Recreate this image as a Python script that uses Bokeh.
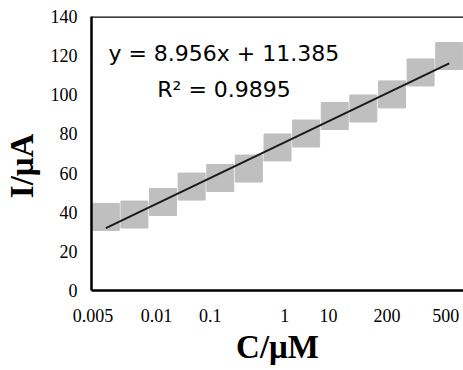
import numpy as np
from bokeh.plotting import figure
from bokeh.models import Range1d, FixedTicker, Label, Span
from bokeh.embed import file_html
from bokeh.resources import INLINE

# data
point_index = [1, 2, 3, 4, 5, 6, 7, 8, 9, 10, 11, 12, 13]
current_uA = [37.6, 38.8, 45.2, 53.1, 57.5, 62.3, 73.1, 80.2, 89.2, 93.0, 100.2, 111.4, 119.8]
conc_labels = ["0.005", "0.01", "0.1", "1", "10", "200", "500"]
conc_label_pos = [0.55, 2.77, 4.65, 7.25, 8.78, 10.83, 12.88]
y_ticks = [0, 20, 40, 60, 80, 100, 120, 140]
equation_text = "y = 8.956x + 11.385"
r2_text = "R\u00b2 = 0.9895"
x_title = "C/\u03bcM"
y_title = "I/\u03bcA"

p = figure(width=463, height=370, output_backend="svg", toolbar_location=None,
           x_range=Range1d(0.5, 13.5), y_range=Range1d(0, 140),
           min_border_left=90, min_border_right=0, min_border_top=16, min_border_bottom=80)
p.outline_line_color = None
p.xgrid.visible = False
p.ygrid.visible = False
p.background_fill_color = "white"
p.border_fill_color = "white"

# trend line from least squares fit
slope, intercept = np.polyfit(point_index, current_uA, 1)
xs = [point_index[0], point_index[-1]]
ys = [slope * x + intercept for x in xs]

p.scatter(point_index, current_uA, marker="square", size=27,
          fill_color="#bfbfbf", line_color="#bfbfbf")
p.line(xs, ys, line_color="#1a1a1a", line_width=2)

# axes
yax = p.yaxis[0]
yax.ticker = FixedTicker(ticks=y_ticks)
yax.major_tick_line_color = None
yax.minor_tick_line_color = None
yax.major_tick_out = 0
yax.major_tick_in = 0
yax.major_label_standoff = 14
yax.major_label_text_font = "Liberation Serif"
yax.major_label_text_font_size = "18px"
yax.major_label_text_color = "black"
yax.axis_line_width = 2.5
yax.axis_line_color = "black"
yax.axis_label = y_title + "\u00a0\u00a0\u00a0"
yax.axis_label_text_font = "Liberation Serif"
yax.axis_label_text_font_style = "bold"
yax.axis_label_text_font_size = "33px"
yax.axis_label_text_color = "black"
yax.axis_label_standoff = 8

xax = p.xaxis[0]
xax.ticker = FixedTicker(ticks=conc_label_pos)
xax.major_label_overrides = {pos: lab for pos, lab in zip(conc_label_pos, conc_labels)}
xax.major_tick_line_color = None
xax.minor_tick_line_color = None
xax.major_tick_out = 0
xax.major_tick_in = 0
xax.major_label_standoff = 18
xax.major_label_text_font = "Liberation Serif"
xax.major_label_text_font_size = "18px"
xax.major_label_text_color = "black"
xax.axis_line_width = 2.5
xax.axis_line_color = "black"
xax.axis_label = x_title
xax.axis_label_text_font = "Liberation Serif"
xax.axis_label_text_font_style = "bold"
xax.axis_label_text_font_size = "33px"
xax.axis_label_text_color = "black"
xax.axis_label_standoff = 4

# top border of the plot area
p.add_layout(Span(location=140, dimension="width", line_color="black", line_width=2.5))

# equation annotations
p.add_layout(Label(x=1.09, y=121, text=equation_text, text_font="DejaVu Sans",
                   text_font_size="22px", text_baseline="middle", text_color="black"))
p.add_layout(Label(x=2.80, y=102.7, text=r2_text, text_font="DejaVu Sans",
                   text_font_size="22px", text_baseline="middle", text_color="black"))

open("out.html", "w").write(file_html(p, INLINE))
